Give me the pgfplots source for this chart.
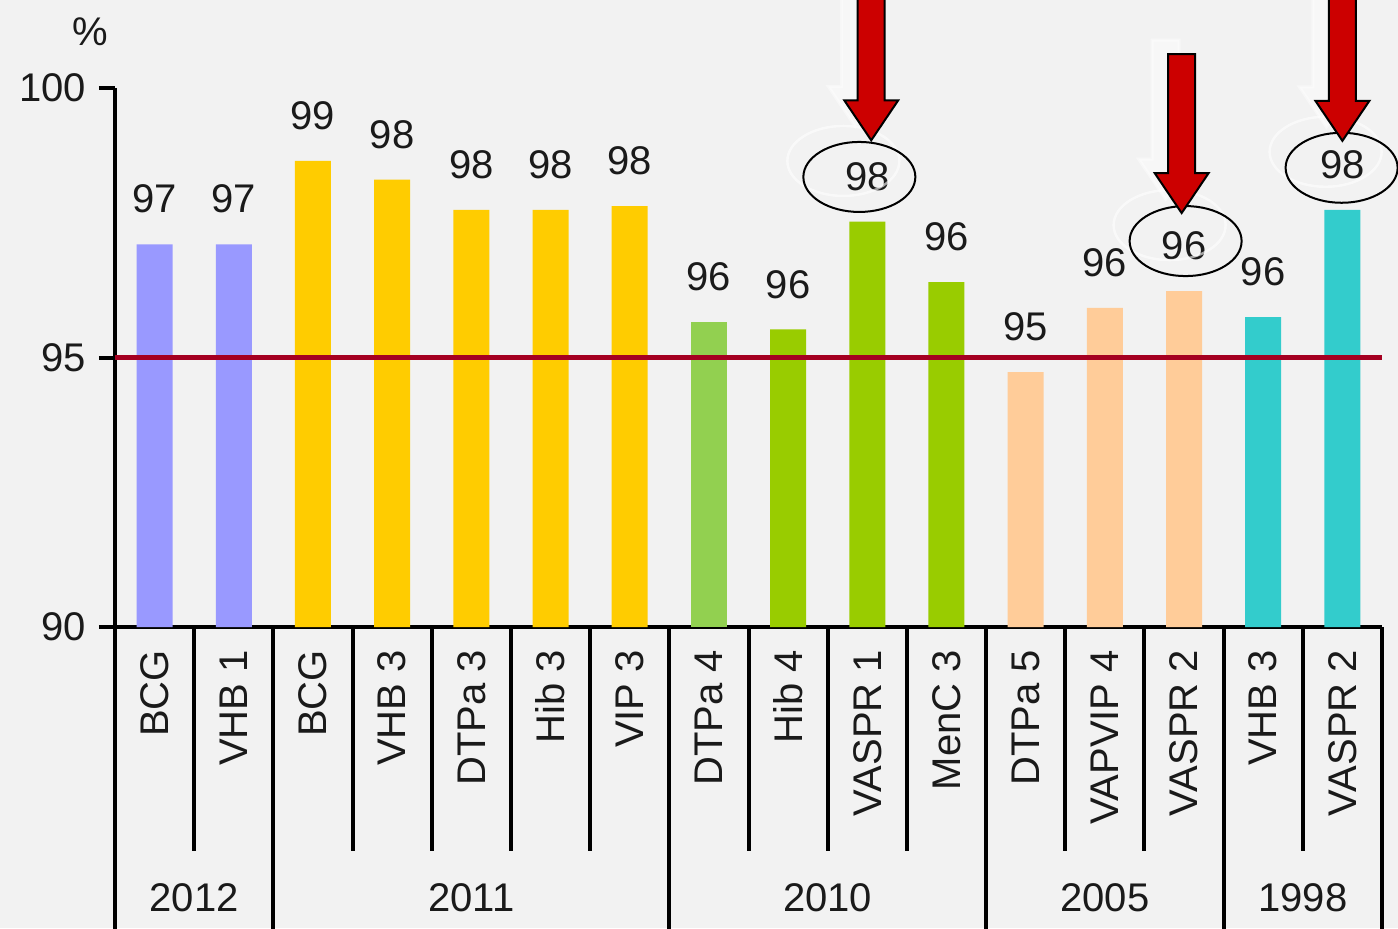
\documentclass[border=0pt]{standalone}
\usepackage{pgfplots}
\pgfplotsset{compat=1.18}
\usepackage{fontspec}
\setmainfont{Liberation Sans}

\definecolor{bg}{HTML}{F2F2F2}
\definecolor{lav}{HTML}{9999FF}
\definecolor{gold}{HTML}{FFCC00}
\definecolor{greenA}{HTML}{92D050}
\definecolor{greenB}{HTML}{99CC00}
\definecolor{peach}{HTML}{FFCC99}
\definecolor{teal}{HTML}{33CCCC}
\definecolor{refred}{HTML}{A50021}
\definecolor{arrowred}{HTML}{CC0000}
\definecolor{ink}{HTML}{1A1A1A}

\newcommand{\lab}{\fontsize{20}{24}\selectfont}

% down-pointing callout arrow: x, y of the tip, shaft length
\newcommand{\callout}[3]{%
  \draw[white, fill=white, opacity=0.45, line width=1.5pt]
    ([shift={(-8pt,7pt)}]axis cs:#1,#2) -- ++(-13.5pt,20pt) -- ++(6.75pt,0pt) -- ++(0pt,#3)
    -- ++(13.5pt,0pt) -- ++(0pt,-#3) -- ++(6.75pt,0pt) -- cycle;
  \draw[black, fill=arrowred, line width=1pt, line join=miter]
    (axis cs:#1,#2) -- ++(-13.5pt,20pt) -- ++(6.75pt,0pt) -- ++(0pt,#3)
    -- ++(13.5pt,0pt) -- ++(0pt,-#3) -- ++(6.75pt,0pt) -- cycle;
}
% ring around a value label
\newcommand{\ring}[2]{%
  \draw[white, opacity=0.6, line width=1.2pt] ([shift={(-8pt,8pt)}]axis cs:#1,#2) ellipse [x radius=28pt, y radius=17.5pt];
  \draw[black, line width=1pt] (axis cs:#1,#2) ellipse [x radius=28pt, y radius=17.5pt];
}

\begin{document}
\begin{tikzpicture}
\useasboundingbox (-57.5pt,-150.5pt) rectangle (641.5pt,313.5pt);
\fill[bg] (-57.5pt,-150.5pt) rectangle (641.5pt,313.5pt);
\clip (-57.5pt,-150.5pt) rectangle (641.5pt,313.5pt);
\begin{axis}[
  at={(0,0)}, anchor=south west,
  scale only axis, width=633.5pt, height=269.5pt,
  xmin=-0.5, xmax=15.5, ymin=90, ymax=100,
  axis lines*=left,
  axis line style={line width=2pt, black},
  ytick={90,95,100},
  xtick={0,...,15},
  xticklabels={BCG, VHB 1, BCG, VHB 3, DTPa 3, Hib 3, VIP 3, DTPa 4, Hib 4, VASPR 1, MenC 3, DTPa 5, VAPVIP 4, VASPR 2, VHB 3, VASPR 2},
  xticklabel style={rotate=90, anchor=east, font=\lab, text=ink},
  x tick style={draw=none},
  y tick style={line width=2pt, black},
  tick align=outside,
  major tick length=8pt,
  yticklabel style={font=\lab, text=ink, xshift=-3pt},
  /pgf/number format/assume math mode=true,
  ybar, bar width=18pt, bar shift=0pt,
  clip mode=individual,
  nodes near coords={\pgfmathprintnumber[fixed,precision=0,assume math mode=true]{\pgfplotspointmeta}},
  every node near coord/.append style={font=\lab, text=ink, yshift=12pt},
]
% 2012
\addplot[fill=lav, draw=none] coordinates {(0,97.1) (1,97.1)};
% 2011
\addplot[fill=gold, draw=none] coordinates {(2,98.65) (3,98.3) (4,97.74) (5,97.74) (6,97.81)};
% 2010
\addplot[fill=greenA, draw=none] coordinates {(7,95.66)};
\addplot[fill=greenB, draw=none] coordinates {(8,95.52) (9,97.52) (10,96.4)};
% 2005
\addplot[fill=peach, draw=none] coordinates {(11,94.73) (12,95.92) (13,96.23)};
% 1998
\addplot[fill=teal, draw=none] coordinates {(14,95.75) (15,97.74)};

% 95 % target line
\draw[refred, line width=2.5pt] (axis cs:-0.5,95) -- (axis cs:15.5,95);

% table grid below the axis
\draw[line width=2pt] (axis cs:-0.5,90) -- ++(0pt,-160pt);
\pgfplotsinvokeforeach{0.5,2.5,3.5,4.5,5.5,7.5,8.5,9.5,11.5,12.5,14.5}{
  \draw[line width=2pt] (axis cs:#1,90) -- ++(0pt,-112pt);
}
\pgfplotsinvokeforeach{1.5,6.5,10.5,13.5,15.5}{
  \draw[line width=2pt] (axis cs:#1,90) -- ++(0pt,-160pt);
}
\node[font=\lab, text=ink, yshift=-135.5pt] at (axis cs:0.5,90) {2012};
\node[font=\lab, text=ink, yshift=-135.5pt] at (axis cs:4,90) {2011};
\node[font=\lab, text=ink, yshift=-135.5pt] at (axis cs:8.5,90) {2010};
\node[font=\lab, text=ink, yshift=-135.5pt] at (axis cs:12,90) {2005};
\node[font=\lab, text=ink, yshift=-135.5pt] at (axis cs:14.5,90) {1998};

% unit
\node[font=\lab, text=ink, xshift=-12.5pt, yshift=28pt] at (axis cs:-0.5,100) {\%};

% highlighted values
\ring{8.9}{98.35}
\ring{13.02}{97.16}
\ring{14.99}{98.52}
\callout{9.05}{99.03}{60pt}
\callout{12.97}{97.68}{59.5pt}
\callout{15.0}{99.02}{60pt}
\end{axis}
\end{tikzpicture}
\end{document}
